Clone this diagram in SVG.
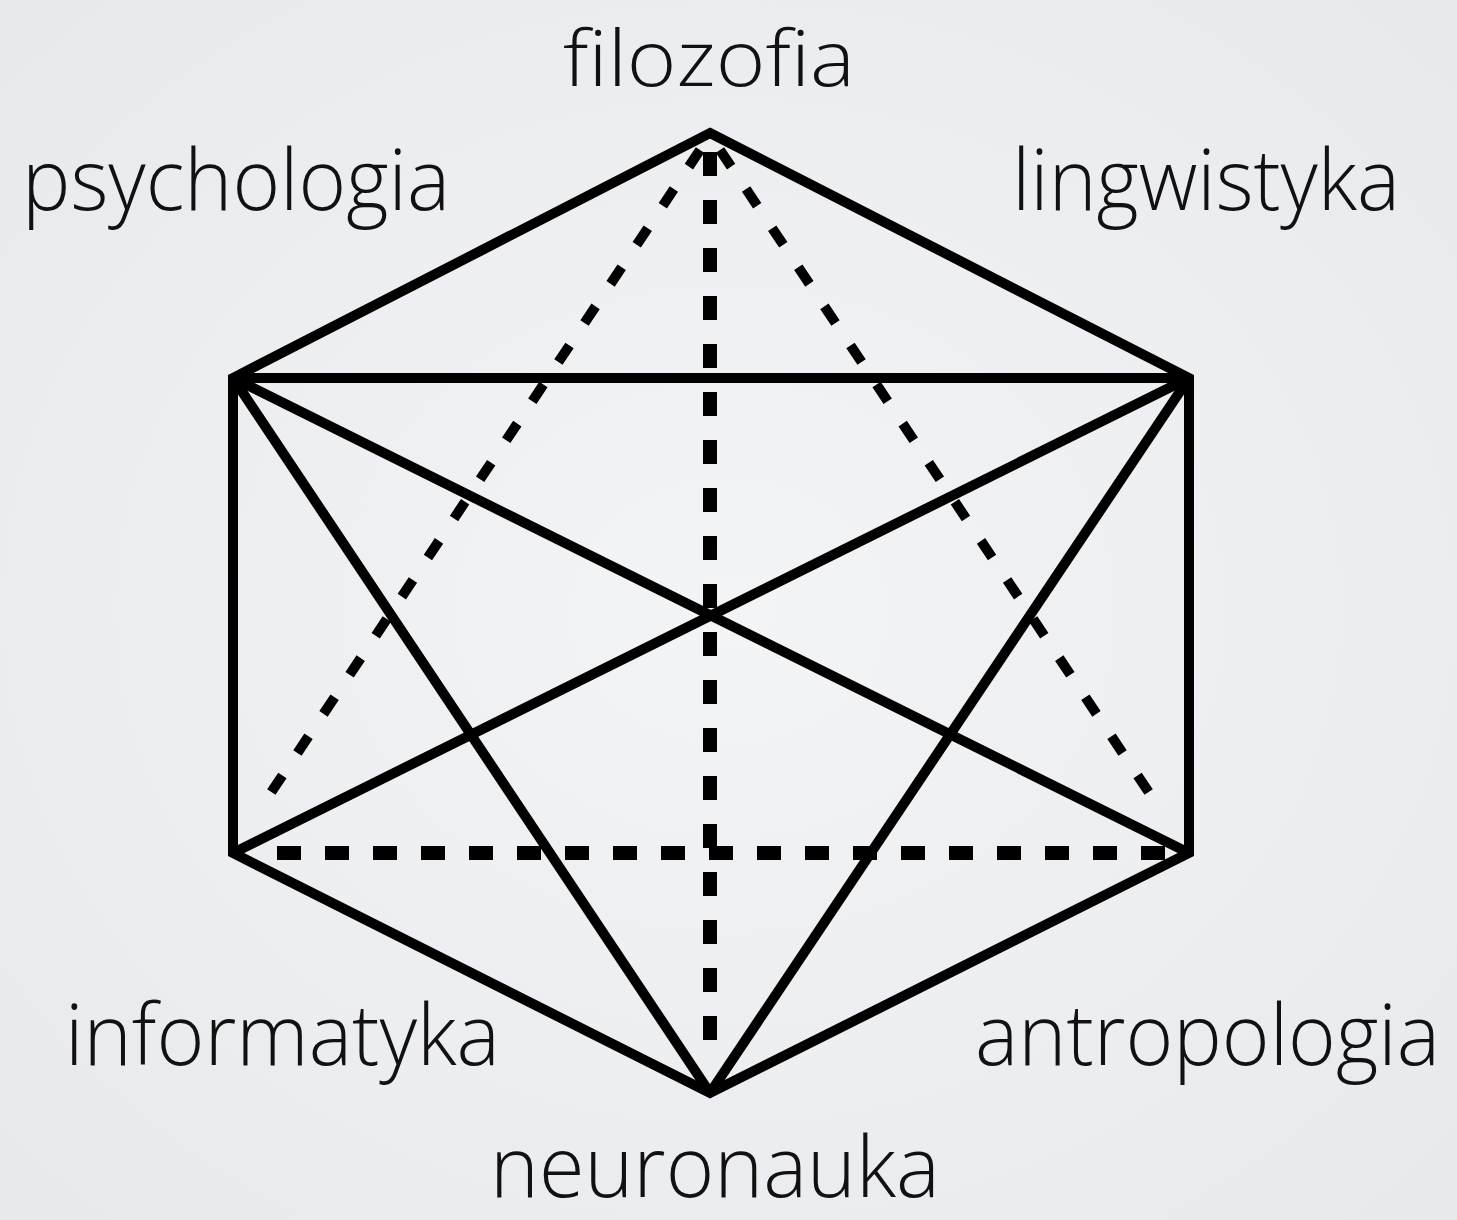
<svg xmlns="http://www.w3.org/2000/svg" width="1457" height="1220" viewBox="0 0 1457 1220">
<defs>
<radialGradient id="bg" cx="50%" cy="50%" r="75%">
<stop offset="0" stop-color="#f3f4f6"/>
<stop offset="1" stop-color="#e6e8eb"/>
</radialGradient>
<style>
.solid{stroke:#000;stroke-width:10;fill:none;stroke-linejoin:miter;stroke-linecap:butt}
.dashA{stroke:#000;stroke-width:14;fill:none;stroke-dasharray:24 24}
.dashB{stroke:#000;stroke-width:10;fill:none;stroke-dasharray:20 27}
.lbl{font-family:"Open Sans","Lato","DejaVu Sans",sans-serif;font-weight:300;font-size:85px;fill:#111}
</style>
</defs>
<rect width="1457" height="1220" fill="url(#bg)"/>
<g id="connectors">
<path class="solid" d="M710,133 L1189,378 L1189,853 L710,1093 L233,853 L233,378 Z"/>
<line class="solid" x1="233" y1="378" x2="1189" y2="378"/>
<line class="solid" x1="233" y1="378" x2="1189" y2="853"/>
<line class="solid" x1="1189" y1="378" x2="233" y2="853"/>
<line class="solid" x1="233" y1="378" x2="710" y2="1093"/>
<line class="solid" x1="1189" y1="378" x2="710" y2="1093"/>
<line class="dashA" x1="710" y1="152" x2="710" y2="1064"/>
<line class="dashA" x1="277" y1="853" x2="1180" y2="853"/>
<line class="dashB" x1="700" y1="150" x2="260" y2="809"/>
<line class="dashB" x1="720" y1="150" x2="1160" y2="809"/>
</g>
<g id="node-filozofia"><text class="lbl" x="709" y="86" text-anchor="middle" style="font-size:78px" textLength="292" lengthAdjust="spacingAndGlyphs">filozofia</text></g>
<g id="node-psychologia"><text class="lbl" x="22" y="210" textLength="428" lengthAdjust="spacingAndGlyphs">psychologia</text></g>
<g id="node-lingwistyka"><text class="lbl" x="1012" y="210" textLength="388" lengthAdjust="spacingAndGlyphs">lingwistyka</text></g>
<g id="node-informatyka"><text class="lbl" x="65" y="1065" textLength="435" lengthAdjust="spacingAndGlyphs">informatyka</text></g>
<g id="node-antropologia"><text class="lbl" x="975" y="1065" textLength="465" lengthAdjust="spacingAndGlyphs">antropologia</text></g>
<g id="node-neuronauka"><text class="lbl" x="490" y="1197" textLength="450" lengthAdjust="spacingAndGlyphs">neuronauka</text></g>
</svg>
